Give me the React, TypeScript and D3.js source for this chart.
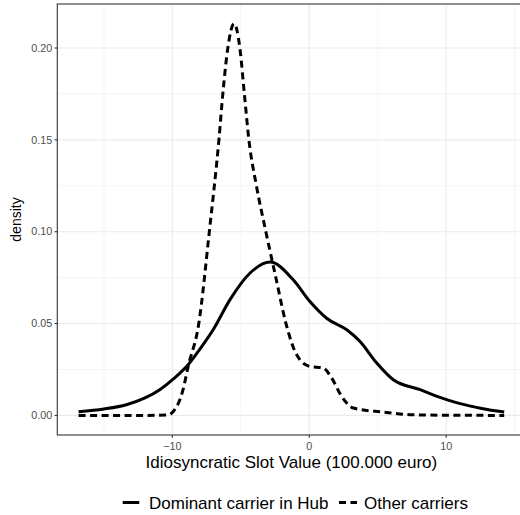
import React from 'react';
import * as d3 from 'd3';

// density curves
const dominantX = [-16.85, -15, -13.36, -12, -10.92, -9.9, -8.85, -7.9, -7.02, -5.8, -4.34, -2.87, -1.17, 0.05, 1.27, 2.74, 3.71, 4.93, 6.14, 8.1, 9.5, 11.02, 12.6, 14.24];
const dominantY = [0.002, 0.0035, 0.0058, 0.0095, 0.014, 0.02, 0.0276, 0.037, 0.0466, 0.0629, 0.0774, 0.0835, 0.0738, 0.062, 0.0529, 0.0466, 0.0402, 0.0285, 0.0194, 0.014, 0.010, 0.0064, 0.0038, 0.0018];

const otherX = [-16.85, -12, -10.3, -9.95, -9.22, -8.85, -8.07, -7.3, -6.6, -6.29, -5.95, -5.49, -5.07, -4.74, -4.41, -3.86, -3.17, -2.44, -1.7, -0.92, 0.05, 1.02, 1.64, 2.37, 3.22, 5.41, 7.37, 10, 14.24];
const otherY = [0, 0, 0.0003, 0.002, 0.014, 0.0266, 0.05, 0.1, 0.15, 0.177, 0.2, 0.2133, 0.2, 0.175, 0.15, 0.125, 0.1, 0.075, 0.05, 0.033, 0.0266, 0.0258, 0.0203, 0.0103, 0.004, 0.0018, 0.0004, 0.0001, 0];

const xTicks = [-10, 0, 10];
const xMinor = [-15, -5, 5, 15];
const yTicks = [0, 0.05, 0.1, 0.15, 0.2];
const yMinor = [0.025, 0.075, 0.125, 0.175];

const seriesNames = ['Dominant carrier in Hub', 'Other carriers'];
const xTitle = 'Idiosyncratic Slot Value (100.000 euro)';
const yTitle = 'density';

const font = '"Liberation Sans", Arial, sans-serif';
const dash = '7,4.5';

export default function App() {
  const width = 520, height = 515;
  const margin = { top: 4, left: 57.3, right: 525.5, bottom: 435 };

  const dominant = dominantX.map((x, i) => ({ x, y: dominantY[i] }));
  const other = otherX.map((x, i) => ({ x, y: otherY[i] }));
  const all = dominant.concat(other);

  const xExt = d3.extent(all, d => d.x) as [number, number];
  const yExt = d3.extent(all, d => d.y) as [number, number];
  const xPad = (xExt[1] - xExt[0]) * 0.05;
  const yPad = (yExt[1] - yExt[0]) * 0.05;

  const x = d3.scaleLinear()
    .domain([xExt[0] - xPad, xExt[1] + xPad])
    .range([margin.left, margin.right]);
  const y = d3.scaleLinear()
    .domain([yExt[0] - yPad, yExt[1] + yPad])
    .range([margin.bottom, margin.top]);

  const line = d3.line<{ x: number; y: number }>()
    .x(d => x(d.x))
    .y(d => y(d.y))
    .curve(d3.curveMonotoneX);

  const fmtY = d3.format('.2f');
  const fmtX = (v: number) => (v < 0 ? '\u2212' + Math.abs(v) : String(v));

  const pw = margin.right - margin.left;
  const ph = margin.bottom - margin.top;

  return (
    <svg width={width} height={height} style={{ position: 'absolute', left: 0, top: 0, background: '#fff' }}>
      <defs>
        <clipPath id="panel">
          <rect x={margin.left} y={margin.top} width={pw} height={ph} />
        </clipPath>
      </defs>
      <rect x={0} y={0} width={width} height={height} fill="#fff" />
      <g clipPath="url(#panel)">
        {xMinor.map(t => (
          <line key={'xm' + t} x1={x(t)} x2={x(t)} y1={margin.top} y2={margin.bottom} stroke="#EBEBEB" strokeWidth={0.55} />
        ))}
        {yMinor.map(t => (
          <line key={'ym' + t} x1={margin.left} x2={margin.right} y1={y(t)} y2={y(t)} stroke="#EBEBEB" strokeWidth={0.55} />
        ))}
        {xTicks.map(t => (
          <line key={'xg' + t} x1={x(t)} x2={x(t)} y1={margin.top} y2={margin.bottom} stroke="#EBEBEB" strokeWidth={1.1} />
        ))}
        {yTicks.map(t => (
          <line key={'yg' + t} x1={margin.left} x2={margin.right} y1={y(t)} y2={y(t)} stroke="#EBEBEB" strokeWidth={1.1} />
        ))}
        <path d={line(dominant) || ''} fill="none" stroke="#000" strokeWidth={3} />
        <path d={line(other) || ''} fill="none" stroke="#000" strokeWidth={3} strokeDasharray={dash} />
      </g>
      <rect x={margin.left} y={margin.top} width={pw} height={ph} fill="none" stroke="#333" strokeWidth={1.1} />

      {yTicks.map(t => (
        <g key={'yt' + t}>
          <line x1={margin.left - 2.7} x2={margin.left} y1={y(t)} y2={y(t)} stroke="#333" strokeWidth={1.1} />
          <text x={margin.left - 5} y={y(t)} dy="0.35em" textAnchor="end" fontSize={10.8} fill="#4D4D4D" fontFamily={font}>
            {fmtY(t)}
          </text>
        </g>
      ))}
      {xTicks.map(t => (
        <g key={'xt' + t}>
          <line x1={x(t)} x2={x(t)} y1={margin.bottom} y2={margin.bottom + 2.7} stroke="#333" strokeWidth={1.1} />
          <text x={x(t)} y={450} textAnchor="middle" fontSize={10.8} fill="#4D4D4D" fontFamily={font}>
            {fmtX(t)}
          </text>
        </g>
      ))}

      <text x={(margin.left + margin.right) / 2} y={468} textAnchor="middle" fontSize={17} fill="#000" fontFamily={font}>
        {xTitle}
      </text>
      <text transform={`translate(21,${(margin.top + margin.bottom) / 2}) rotate(-90)`} textAnchor="middle" fontSize={14} fill="#000" fontFamily={font}>
        {yTitle}
      </text>

      <g>
        <line x1={122.7} x2={139.3} y1={502.5} y2={502.5} stroke="#000" strokeWidth={3} />
        <text x={149} y={508.5} fontSize={17} fill="#000" fontFamily={font}>{seriesNames[0]}</text>
        <line x1={339} x2={357} y1={502.5} y2={502.5} stroke="#000" strokeWidth={3} strokeDasharray={dash} />
        <text x={364} y={508.5} fontSize={17} fill="#000" fontFamily={font}>{seriesNames[1]}</text>
      </g>
    </svg>
  );
}
